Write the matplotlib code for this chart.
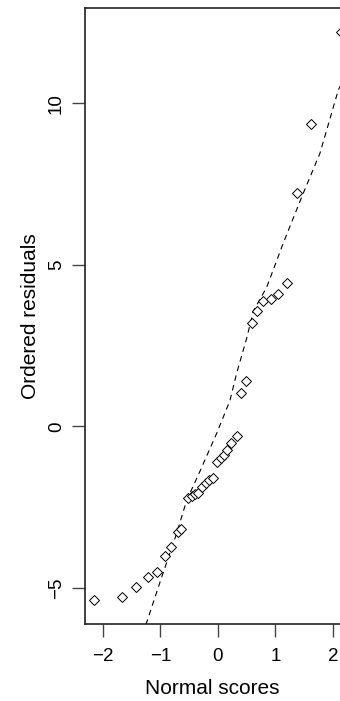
import matplotlib
matplotlib.use("Agg")
import matplotlib.pyplot as plt

plt.rcParams['font.family'] = ['Liberation Sans', 'DejaVu Sans']

# normal scores and ordered residuals
normal_scores = [-2.157, -1.670, -1.417, -1.217, -1.061, -0.922, -0.823, -0.696,
                 -0.635, -0.522, -0.452, -0.400, -0.343, -0.270, -0.203, -0.151,
                 -0.087, -0.012, 0.047, 0.104, 0.162, 0.221, 0.325, 0.395,
                 0.483, 0.586, 0.683, 0.777, 0.916, 1.043, 1.195, 1.379,
                 1.623, 2.14]
residuals = [-5.36, -5.26, -4.95, -4.67, -4.49, -4.01, -3.72, -3.25,
             -3.17, -2.20, -2.14, -2.09, -2.07, -1.87, -1.76, -1.67,
             -1.58, -1.10, -0.98, -0.87, -0.74, -0.52, -0.31, 1.03,
             1.42, 3.20, 3.56, 3.87, 3.95, 4.11, 4.45, 7.21,
             9.35, 12.21]

# dashed reference curve
curve_x = [-1.252, -0.979, -0.718, -0.544, -0.313, -0.023, 0.209, 0.325,
           0.499, 0.614, 0.847, 1.136, 1.483, 1.774, 2.092, 2.16]
curve_y = [-6.13, -4.67, -3.31, -2.29, -1.39, -0.22, 0.80, 1.64,
           2.72, 3.56, 4.30, 5.67, 7.21, 8.45, 10.40, 10.65]

xticks = [-2, -1, 0, 1, 2]
yticks = [-5, 0, 5, 10]

fig = plt.figure(figsize=(3.4, 7.01), dpi=100)
ax = fig.add_axes([0.25, 0.1098, 0.75, 0.8788])

ax.plot(curve_x, curve_y, color='black', lw=0.8, dashes=(5, 4))
ax.plot(normal_scores, residuals, linestyle='none', marker='D', ms=5.5,
        mfc='white', mec='black', mew=0.7, clip_on=False)

ax.set_xlim(-2.31, 2.122)
ax.set_ylim(-6.11, 12.94)

ax.spines['right'].set_visible(False)
for s in ['left', 'top', 'bottom']:
    ax.spines[s].set_linewidth(1.2)
    ax.spines[s].set_color('#222222')

ax.set_xticks(xticks)
ax.set_xticklabels([str(t).replace('-', '\u2212') for t in xticks])
ax.set_yticks(yticks)
ax.set_yticklabels([str(t).replace('-', '\u2212') for t in yticks],
                   rotation=90, va='center')
ax.tick_params(direction='out', length=9.4, width=1, color='#444444',
               labelsize=13.5)
ax.tick_params(axis='x', pad=8)
ax.tick_params(axis='y', pad=5)

ax.set_xlabel('Normal scores', fontsize=15, labelpad=10)
ax.set_ylabel('Ordered residuals', fontsize=15, labelpad=6)

fig.savefig('out.png', dpi=100)
